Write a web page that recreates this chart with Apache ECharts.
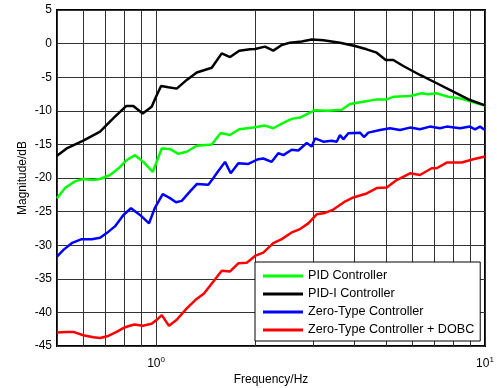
<!DOCTYPE html>
<html>
<head>
<meta charset="utf-8">
<script src="https://cdn.jsdelivr.net/npm/echarts@6/dist/echarts.min.js"></script>
<style>
  html, body { margin: 0; padding: 0; background: #fff; }
  #chart { width: 497px; height: 388px; }
</style>
</head>
<body>
<div id="chart"></div>
<script>
// 图例名称
const seriesNames = ['PID Controller', 'PID-I Controller', 'Zero-Type Controller', 'Zero-Type Controller + DOBC']
const seriesColors = ['#00ff00', '#000000', '#0000ff', '#ff0000']

// 频率网格线 / 刻度标签 (Hz)
const gridFreqs = [0.5, 0.6, 0.7, 0.8, 0.9, 1, 2, 3, 4, 5, 6, 7, 8, 9, 10]
const labelFreqs = [1, 10]
const magTicks = { min: -45, max: 5, step: 5 }

// 曲线数据 [Hz, dB]
const pidData = [
  [0.5, -23.0], [0.529, -21.5], [0.567, -20.5], [0.601, -20.15], [0.645, -20.3], [0.676, -20.15],
  [0.725, -19.55], [0.768, -18.6], [0.811, -17.4], [0.863, -16.6], [0.915, -17.6], [0.977, -19.1],
  [1.041, -15.6], [1.103, -15.7], [1.169, -16.4], [1.24, -16.1], [1.33, -15.2], [1.477, -15.0],
  [1.573, -13.3], [1.679, -13.6], [1.791, -12.75], [1.976, -12.5], [2.144, -12.2], [2.272, -12.6],
  [2.438, -11.8], [2.585, -11.2], [2.74, -11.0], [3.043, -9.9], [3.34, -10.0], [3.668, -9.84],
  [3.887, -9.0], [4.267, -8.65], [4.686, -8.3], [5.026, -8.3], [5.289, -7.9], [5.916, -7.8],
  [6.421, -7.4], [6.722, -7.55], [7.132, -7.4], [7.733, -7.9], [8.395, -8.15], [9.112, -8.65], [10, -9.2]
]
const pidIData = [
  [0.5, -16.7], [0.535, -15.6], [0.601, -14.45], [0.676, -13.1], [0.742, -11.1], [0.811, -9.3],
  [0.853, -9.3], [0.911, -10.4], [0.97, -9.4], [1.0, -7.9], [1.036, -6.3], [1.09, -6.5], [1.156, -6.7],
  [1.24, -5.4], [1.33, -4.3], [1.477, -3.6], [1.584, -1.45], [1.679, -2.0], [1.791, -1.05],
  [1.931, -0.85], [2.0, -0.8], [2.144, -0.45], [2.272, -1.05], [2.411, -0.2], [2.555, 0.14],
  [2.773, 0.3], [2.974, 0.6], [3.225, 0.5], [3.625, 0.14], [4.025, -0.36], [4.369, -0.85],
  [4.686, -1.35], [4.991, -2.44], [5.263, -2.44], [5.645, -3.33], [6.345, -4.67], [7.132, -5.9],
  [8.009, -7.16], [9.003, -8.4], [10, -9.2]
]
const zeroData = [
  [0.5, -31.7], [0.523, -30.7], [0.554, -29.7], [0.594, -29.1], [0.638, -29.1], [0.676, -28.9],
  [0.708, -28.2], [0.75, -27.2], [0.796, -25.5], [0.839, -24.5], [0.894, -25.5], [0.952, -26.75],
  [0.993, -24.4], [1.048, -22.4], [1.103, -23.0], [1.15, -23.6], [1.197, -23.4], [1.269, -22.0],
  [1.33, -20.9], [1.442, -21.0], [1.494, -20.0], [1.529, -19.3], [1.621, -17.6], [1.687, -19.3],
  [1.779, -17.8], [1.908, -17.9], [2.046, -17.2], [2.119, -17.1], [2.247, -17.6], [2.353, -16.3],
  [2.438, -16.6], [2.585, -15.8], [2.707, -15.9], [2.872, -14.8], [2.974, -15.3], [3.043, -14.1],
  [3.225, -14.6], [3.42, -14.45], [3.542, -14.6], [3.625, -13.6], [3.709, -14.25], [3.841, -13.35],
  [4.17, -13.25], [4.288, -13.9], [4.419, -13.25], [4.796, -12.85], [5.143, -12.6], [5.516, -12.85],
  [5.916, -12.5], [6.345, -12.75], [6.802, -12.35], [7.298, -12.6], [7.648, -12.35], [8.395, -12.6],
  [9.003, -12.35], [9.324, -12.75], [9.656, -12.35], [10, -12.85]
]
const dobcData = [
  [0.5, -43.0], [0.535, -42.9], [0.561, -42.9], [0.601, -43.4], [0.645, -43.7], [0.676, -43.8],
  [0.716, -43.5], [0.759, -42.9], [0.805, -42.2], [0.859, -41.8], [0.911, -42.0], [0.97, -41.7],
  [1.005, -41.1], [1.041, -40.4], [1.095, -42.0], [1.156, -41.1], [1.24, -39.4], [1.314, -38.2],
  [1.399, -37.2], [1.494, -35.4], [1.584, -33.8], [1.679, -33.9], [1.779, -32.7], [1.887, -32.6],
  [2.0, -31.6], [2.119, -31.1], [2.272, -29.7], [2.411, -29.1], [2.585, -28.1], [2.74, -27.6],
  [2.904, -26.75], [3.079, -25.4], [3.264, -25.2], [3.459, -24.7], [3.753, -23.5], [3.978, -22.9],
  [4.369, -22.3], [4.686, -21.5], [5.026, -21.4], [5.39, -20.3], [5.916, -19.3], [6.345, -19.55],
  [6.887, -18.55], [7.132, -18.55], [7.648, -17.7], [8.496, -17.7], [9.213, -17.2], [10, -16.8]
]
const allData = [pidData, pidIData, zeroData, dobcData]

const chart = echarts.init(document.getElementById('chart'))
const font = 'Liberation Sans, Arial, sans-serif'

chart.setOption({
  animation: false,
  textStyle: { fontFamily: font },
  grid: {
    left: 57, right: 12, top: 10, bottom: 42,
    outerBoundsMode: 'none',
    show: true, borderColor: '#000', borderWidth: 2
  },
  legend: {
    orient: 'vertical',
    left: 255,
    top: 262,
    padding: [7, 6, 4, 8],
    icon: 'rect',
    itemWidth: 40,
    itemHeight: 3,
    itemGap: 4,
    backgroundColor: '#fff',
    borderColor: '#000',
    borderWidth: 1,
    borderRadius: 0,
    textStyle: { fontSize: 12.6, color: '#000', fontFamily: font, lineHeight: 14 },
    data: seriesNames
  },
  xAxis: {
    type: 'log',
    logBase: 10,
    min: 0.5,
    max: 10,
    name: 'Frequency/Hz',
    nameLocation: 'middle',
    nameGap: 28,
    nameMoveOverlap: false,
    nameTextStyle: { fontSize: 12, color: '#000' },
    axisLine: { show: false },
    axisTick: { show: false, customValues: gridFreqs },
    axisLabel: {
      customValues: labelFreqs,
      margin: 10,
      color: '#000',
      fontSize: 12,
      formatter: v => '10{sup|' + Math.round(Math.log10(v)) + '}',
      rich: { sup: { fontSize: 8, padding: [0, 0, 8, 0], color: '#000' } }
    },
    splitLine: { show: true, lineStyle: { color: '#333', width: 1 } }
  },
  yAxis: {
    type: 'value',
    min: magTicks.min,
    max: magTicks.max,
    interval: magTicks.step,
    name: 'Magnitude/dB',
    nameLocation: 'middle',
    nameGap: 28,
    nameMoveOverlap: false,
    nameTextStyle: { fontSize: 12, color: '#000' },
    axisLine: { show: false },
    axisTick: { show: false },
    axisLabel: { margin: 5, color: '#000', fontSize: 12 },
    splitLine: { show: true, lineStyle: { color: '#333', width: 1 } }
  },
  series: seriesNames.map((name, i) => ({
    name: name,
    type: 'line',
    data: allData[i],
    symbol: 'none',
    clip: true,
    color: seriesColors[i],
    lineStyle: { width: 2.5, color: seriesColors[i] }
  }))
})
</script>
</body>
</html>
